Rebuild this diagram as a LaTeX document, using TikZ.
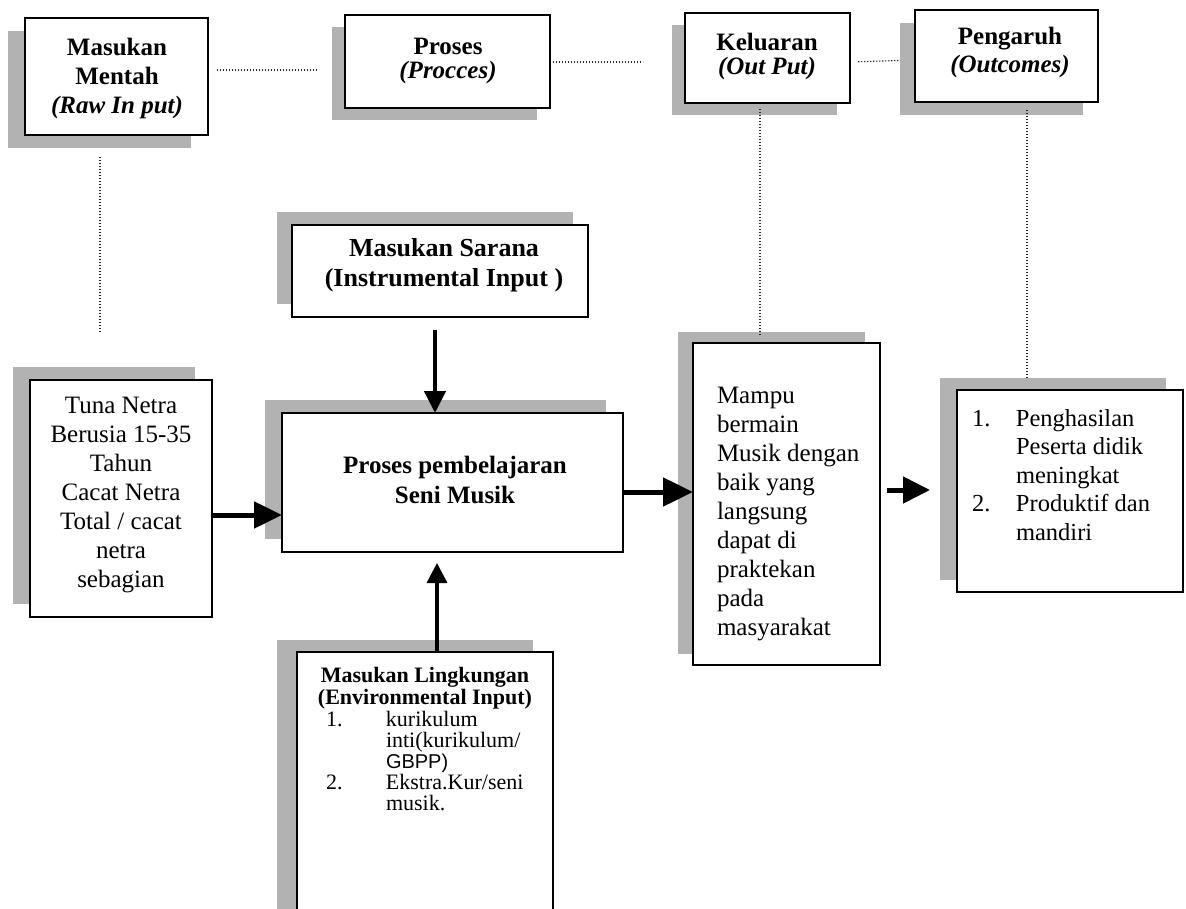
\documentclass[tikz,border=0pt]{standalone}
\usepackage{fontspec}
\setmainfont{Liberation Serif}
\newfontfamily\arialf{Liberation Sans}
\usetikzlibrary{arrows.meta,calc}
\tikzset{
  box/.style={draw=black, line width=2.6pt, fill=white, inner sep=0pt, outer sep=0pt, anchor=north west},
  shad/.style={fill=black!30},
  txt/.style={inner sep=0pt, outer sep=0pt, align=center},
  dotl/.style={line width=1.1pt, dash pattern=on 1.3pt off 1.7pt, draw=black!85},
  bigarrow/.style={line width=5pt, -{Triangle[length=28pt,width=26pt]}},
  downarrow/.style={line width=4.5pt, -{Triangle[length=22pt,width=21pt]}},
  uparrow/.style={line width=3.3pt, -{Triangle[length=20pt,width=20pt]}},
}
\newcommand\shbox[7]{%
  \fill[shad] (#2+#6,#3+#7) rectangle (#4+#6,#5+#7);
  \node[box, minimum width={(#4-#2)*1pt}, minimum height={(#5-#3)*1pt}] (#1) at (#2,#3) {};
}
\newcommand\fs[2]{\fontsize{#1}{#2}\selectfont}
\begin{document}
\begin{tikzpicture}[x=1pt,y=-1pt]
\useasboundingbox (0,0) rectangle (1186,909);
\clip (0,0) rectangle (1186,909);
\fill[white] (0,0) rectangle (1186,909);

% boxes
\shbox{mentah}{25}{18}{208}{135}{-17}{13}
\shbox{proses}{345}{15}{550}{108}{-13}{12}
\shbox{keluaran}{685}{13}{850}{103}{-13}{12}
\shbox{pengaruh}{915}{10}{1098}{102}{-15}{13}
\shbox{sarana}{292}{225}{588}{317}{-15}{-13}
\shbox{main}{282}{413}{623}{552}{-17}{-13}
\shbox{tuna}{30}{380}{212}{617}{-17}{-13}
\shbox{mampu}{693}{343}{880}{665}{-15}{-11}
\shbox{outcome}{957}{390}{1183}{592}{-17}{-12}
\shbox{env}{297}{652}{553}{925}{-20}{-12}

% texts
\node[txt, font=\fs{25}{29}\bfseries] (tmentah) at (117,78) {Masukan\\Mentah\\\textit{(Raw In put)}};
\node[txt, font=\fs{25}{24}\bfseries] (tproses) at (448,61) {Proses\\\textit{(Procces)}};
\node[txt, font=\fs{25}{24}\bfseries] (tkel) at (767,56) {Keluaran\\\textit{(Out Put)}};
\node[txt, font=\fs{25}{28}\bfseries] (tpeng) at (1010,52) {Pengaruh\\\textit{(Outcomes)}};
\node[txt, font=\fs{26}{30}\bfseries] (tsarana) at (444,265) {Masukan Sarana\\(Instrumental Input )};
\node[txt, font=\fs{25}{30}\bfseries] (tmain) at (455,480) {Proses pembelajaran\\Seni Musik};
\node[txt, font=\fs{25}{29}] (ttuna) at (121,495) {Tuna Netra\\Berusia 15-35\\Tahun\\Cacat Netra\\Total / cacat\\netra\\sebagian};
\node[txt, align=left, anchor=west, font=\fs{25}{29}] (tmampu) at (717,514) {Mampu\\bermain\\Musik dengan\\baik yang\\langsung\\dapat di\\praktekan\\pada\\masyarakat};
\node[txt, align=left, anchor=west, font=\fs{24.5}{28.5}] (tout) at (972,475) {\makebox[44pt][l]{1.}Penghasilan\\\hspace*{44pt}Peserta didik\\\hspace*{44pt}meningkat\\\makebox[44pt][l]{2.}Produktif dan\\\hspace*{44pt}mandiri};
\node[txt, font=\fs{22}{22.5}\bfseries] (tenvh) at (425,688) {Masukan Lingkungan\\(Environmental Input)};
\node[txt, align=left, anchor=west, font=\fs{22}{21}] (tenvl) at (326,761) {\makebox[60pt][l]{1.}kurikulum\\\hspace*{60pt}inti(kurikulum/\\\hspace*{60pt}{\arialf\fontsize{20}{21}\selectfont GBPP)}\\\makebox[60pt][l]{2.}Ekstra.Kur/seni\\\hspace*{60pt}musik.};

% dotted connectors
\coordinate (y70) at (0,70);
\coordinate (y62) at (0,62);
\coordinate (y60) at (0,60);
\coordinate (d1end) at (318,70);
\coordinate (d2end) at (643,62);
\draw[dotl, shorten <=9pt] (mentah.east |- y70) -- (d1end);
\draw[dotl, shorten <=3pt] (proses.east |- y62) -- (d2end);
\draw[dotl, shorten <=8pt, shorten >=15pt] (keluaran.east |- y62) -- (pengaruh.west |- y60);
\coordinate (x100) at (100,0);
\coordinate (x760) at (760,0);
\coordinate (x1027) at (1027,0);
\draw[dotl, shorten <=22pt, shorten >=48pt] (mentah.south -| x100) -- (tuna.north -| x100);
\draw[dotl, shorten <=6pt, shorten >=8pt] (keluaran.south -| x760) -- (mampu.north -| x760);
\draw[dotl, shorten <=8pt, shorten >=12pt] (pengaruh.south -| x1027) -- (outcome.north -| x1027);

% arrows
\coordinate (ya) at (0,515);
\coordinate (yb) at (0,492);
\coordinate (yc) at (0,490);
\coordinate (oend) at (930,490);
\coordinate (xs) at (435,0);
\coordinate (xu) at (437,0);
\draw[bigarrow] (tuna.east |- ya) -- (main.west |- ya);
\draw[line width=5pt, -{Triangle[length=30pt,width=28pt]}] (main.east |- yb) -- (mampu.west |- yb);
\draw[line width=5pt, -{Triangle[length=27pt,width=26pt]}, shorten <=7pt] (mampu.east |- yc) -- (oend);
\draw[downarrow, shorten <=13pt] (sarana.south -| xs) -- (main.north -| xs);
\draw[uparrow, shorten >=11pt] (env.north -| xu) -- (main.south -| xu);
\end{tikzpicture}
\end{document}
